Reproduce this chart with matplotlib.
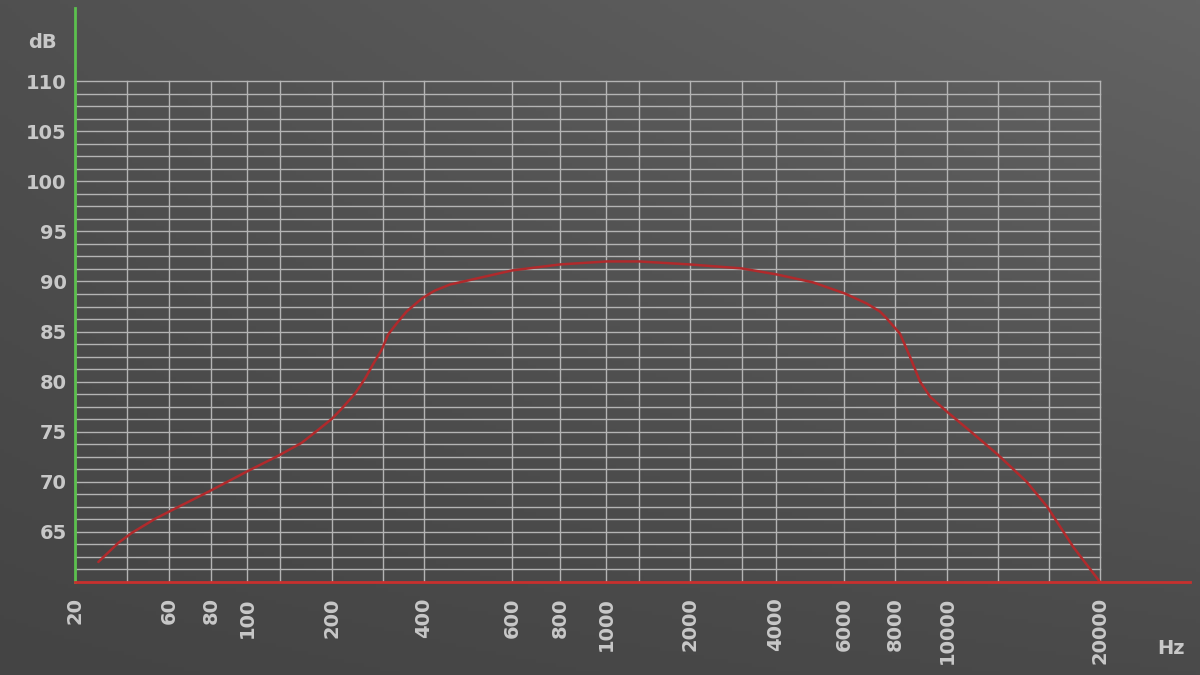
import numpy as np
import matplotlib.pyplot as plt
from matplotlib.scale import FuncScale

# Datos de la curva de respuesta (Hz, dB)
frecuencias = [27.3, 35.6, 41.9, 52.4, 64, 78.5, 101.6, 146.8, 169.2, 185.4, 200, 216,
               240, 260, 278, 297, 311, 330, 354, 394, 411, 421, 451, 480, 600, 800,
               1010, 1500, 2000, 3000, 4020, 5000, 6030, 6820, 7350, 7640, 8170, 8530,
               8910, 9300, 10000, 11450, 13000, 14610, 15890, 17790, 20000]
niveles_db = [62.0, 63.9, 64.9, 66.3, 67.5, 69.0, 71.1, 72.6, 73.9, 75.2, 76.3, 77.3,
              78.8, 80.3, 81.8, 83.2, 84.7, 85.8, 87.0, 88.3, 88.8, 89.1, 89.7, 90.0,
              91.1, 91.7, 92.0, 92.0, 91.7, 91.3, 90.7, 89.9, 88.8, 87.8, 87.0, 86.3,
              84.8, 82.5, 80.0, 78.5, 77.0, 74.8, 72.7, 70.0, 67.5, 63.5, 60.0]

# Marcas del eje
ticks_hz = [20, 60, 80, 100, 200, 400, 600, 800, 1000, 2000, 4000, 6000, 8000, 10000, 20000]
grid_hz = [20, 40, 60, 80, 100, 150, 200, 300, 400, 600, 800, 1000, 1500, 2000, 3000,
           4000, 6000, 8000, 10000, 13000, 16000, 20000]
ticks_db = [65, 70, 75, 80, 85, 90, 95, 100, 105, 110]

# Escala del eje X (no es logarítmica pura): nodos frecuencia -> posición
nodos_f = np.log10(grid_hz + [30000])
nodos_p = np.array([75, 127, 169, 211, 247, 280, 332, 383, 424, 512, 560, 606, 639,
                    690, 742, 776, 844, 895, 947, 998, 1049, 1100, 1190], dtype=float)


def adelante(f):
    return np.interp(np.log10(np.clip(f, 1e-9, None)), nodos_f, nodos_p)


def atras(p):
    return 10 ** np.interp(p, nodos_p, nodos_f)


W, H = 1200, 675
fig = plt.figure(figsize=(12, 6.75), dpi=100)

# Fondo con degradado gris
fondo = fig.add_axes([0, 0, 1, 1], zorder=-10)
xn, yn = np.meshgrid(np.linspace(0, 1, 300), np.linspace(0, 1, 170))
v = 68 + 12 * (1 - yn) + 20 * xn * (1 - 0.7 * yn)
fondo.imshow(np.dstack([v, v, v]) / 255.0, aspect="auto", extent=[0, 1, 0, 1], origin="upper")
fondo.axis("off")

ax = fig.add_axes([75 / W, 1 - 582 / H, (1190 - 75) / W, (582 - 8) / H])
ax.patch.set_alpha(0)
ax.set_xscale(FuncScale(ax, (adelante, atras)))
ax.set_xlim(20, 30000)
ax.set_ylim(60, 117.3)

# Rejilla
color_rejilla = "#b4b4b4"
for f in grid_hz:
    ax.plot([f, f], [60, 110], color=color_rejilla, lw=1.0, zorder=1)
for y in np.arange(61.25, 110.01, 1.25):
    ax.plot([20, 20000], [y, y], color=color_rejilla, lw=1.0, zorder=1)

# Curva
ax.plot(frecuencias, niveles_db, color="#b02a2c", lw=1.8, zorder=3,
        solid_joinstyle="round", solid_capstyle="round")

for s in ["top", "right"]:
    ax.spines[s].set_visible(False)
ax.spines["left"].set_color("#5cc04e")
ax.spines["left"].set_linewidth(2)
ax.spines["bottom"].set_color("#c8302e")
ax.spines["bottom"].set_linewidth(2)
ax.spines["left"].set_zorder(4)
ax.spines["bottom"].set_zorder(4)

fuente = dict(family="DejaVu Sans", weight="bold", size=14)
color_texto = "#c8c8c8"

ax.set_xticks(ticks_hz)
ax.set_xticklabels([str(t) for t in ticks_hz], rotation=90, color=color_texto, **fuente)
ax.xaxis.set_minor_locator(plt.NullLocator())
ax.set_yticks(ticks_db)
ax.set_yticklabels([str(t) for t in ticks_db], color=color_texto, **fuente)
ax.tick_params(length=0)
ax.tick_params(axis="x", pad=11)
ax.tick_params(axis="y", pad=6)

fig.text(28 / W, 1 - 42 / H, "dB", color=color_texto, va="center", ha="left", **fuente)
fig.text(1185 / W, 1 - 648 / H, "Hz", color=color_texto, va="center", ha="right", **fuente)

fig.savefig("out.png", dpi=100)
